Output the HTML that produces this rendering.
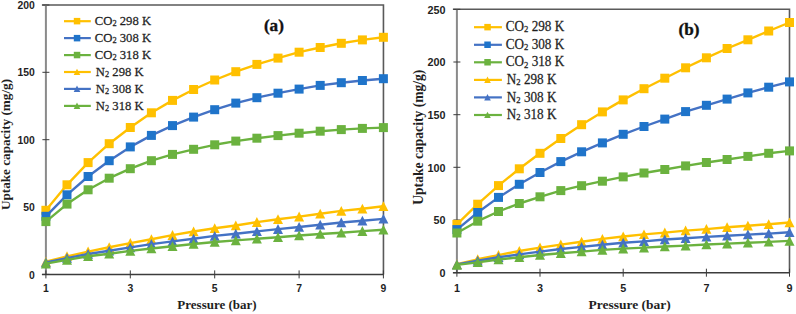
<!DOCTYPE html>
<html><head><meta charset="utf-8"><style>
html,body{margin:0;padding:0;background:#fff;}
body{width:796px;height:314px;overflow:hidden;position:relative;}
svg{position:absolute;left:0;top:0;}
.tk{font-family:"Liberation Sans",sans-serif;font-weight:bold;fill:#1f1f1f;}
.ti{font-family:"Liberation Serif",serif;font-weight:bold;fill:#1f1f1f;}
.pl{font-family:"Liberation Serif",serif;font-weight:bold;font-size:17.2px;fill:#111;stroke:#111;stroke-width:0.35px;}
.lg{font-family:"Liberation Serif",serif;fill:#1f1f1f;stroke:#1f1f1f;stroke-width:0.25px;}
</style></head><body>
<svg width="796" height="314" viewBox="0 0 796 314">
<path d="M41.9,5.00 H383.45 V274.40" fill="none" stroke="#5a5a5a" stroke-width="1.6"/>
<line x1="45.90" y1="5.00" x2="45.90" y2="274.40" stroke="#8a8a8a" stroke-width="2"/>
<line x1="41.9" y1="274.40" x2="383.45" y2="274.40" stroke="#3c3c3c" stroke-width="1.5"/>
<line x1="42.4" y1="274.4" x2="49.4" y2="274.4" stroke="#3a3a3a" stroke-width="1"/>
<text transform="translate(34.9,278.5) scale(1.02,1)" text-anchor="end" class="tk" style="font-size:10.20px">0</text>
<line x1="42.4" y1="207.0" x2="49.4" y2="207.0" stroke="#3a3a3a" stroke-width="1"/>
<text transform="translate(34.9,211.1) scale(1.02,1)" text-anchor="end" class="tk" style="font-size:10.20px">50</text>
<line x1="42.4" y1="139.7" x2="49.4" y2="139.7" stroke="#3a3a3a" stroke-width="1"/>
<text transform="translate(34.9,143.8) scale(1.02,1)" text-anchor="end" class="tk" style="font-size:10.20px">100</text>
<line x1="42.4" y1="72.3" x2="49.4" y2="72.3" stroke="#3a3a3a" stroke-width="1"/>
<text transform="translate(34.9,76.4) scale(1.02,1)" text-anchor="end" class="tk" style="font-size:10.20px">150</text>
<line x1="42.4" y1="5.0" x2="49.4" y2="5.0" stroke="#3a3a3a" stroke-width="1"/>
<text transform="translate(34.9,9.1) scale(1.02,1)" text-anchor="end" class="tk" style="font-size:10.20px">200</text>
<line x1="45.9" y1="270.4" x2="45.9" y2="278.4" stroke="#3a3a3a" stroke-width="1"/>
<text transform="translate(45.9,291.7) scale(1.02,1)" text-anchor="middle" class="tk" style="font-size:10.20px">1</text>
<line x1="130.3" y1="270.4" x2="130.3" y2="278.4" stroke="#3a3a3a" stroke-width="1"/>
<text transform="translate(130.3,291.7) scale(1.02,1)" text-anchor="middle" class="tk" style="font-size:10.20px">3</text>
<line x1="214.7" y1="270.4" x2="214.7" y2="278.4" stroke="#3a3a3a" stroke-width="1"/>
<text transform="translate(214.7,291.7) scale(1.02,1)" text-anchor="middle" class="tk" style="font-size:10.20px">5</text>
<line x1="299.1" y1="270.4" x2="299.1" y2="278.4" stroke="#3a3a3a" stroke-width="1"/>
<text transform="translate(299.1,291.7) scale(1.02,1)" text-anchor="middle" class="tk" style="font-size:10.20px">7</text>
<line x1="383.4" y1="270.4" x2="383.4" y2="278.4" stroke="#3a3a3a" stroke-width="1"/>
<text transform="translate(383.4,291.7) scale(1.02,1)" text-anchor="middle" class="tk" style="font-size:10.20px">9</text>
<text x="217.0" y="309.4" text-anchor="middle" class="ti" style="font-size:13.0px">Pressure (bar)</text>
<text transform="translate(9.6,144.5) rotate(-90)" text-anchor="middle" class="ti" style="font-size:13.2px">Uptake capacity (mg/g)</text>
<text x="273.9" y="31.3" class="pl" text-anchor="middle">(a)</text>
<polyline points="45.9,210.3 67.0,184.8 88.1,162.6 109.2,143.7 130.3,127.5 151.4,112.8 172.5,100.4 193.6,89.5 214.7,80.0 235.8,71.7 256.9,64.4 278.0,58.1 299.1,52.2 320.2,47.5 341.3,43.3 362.4,39.9 383.4,37.3" fill="none" stroke="#FFC000" stroke-width="2.4" stroke-linejoin="round"/>
<rect x="41.4" y="205.8" width="9" height="9" fill="#FFC000"/>
<rect x="62.5" y="180.3" width="9" height="9" fill="#FFC000"/>
<rect x="83.6" y="158.1" width="9" height="9" fill="#FFC000"/>
<rect x="104.7" y="139.2" width="9" height="9" fill="#FFC000"/>
<rect x="125.8" y="123.0" width="9" height="9" fill="#FFC000"/>
<rect x="146.9" y="108.3" width="9" height="9" fill="#FFC000"/>
<rect x="168.0" y="95.9" width="9" height="9" fill="#FFC000"/>
<rect x="189.1" y="85.0" width="9" height="9" fill="#FFC000"/>
<rect x="210.2" y="75.5" width="9" height="9" fill="#FFC000"/>
<rect x="231.3" y="67.2" width="9" height="9" fill="#FFC000"/>
<rect x="252.4" y="59.9" width="9" height="9" fill="#FFC000"/>
<rect x="273.5" y="53.6" width="9" height="9" fill="#FFC000"/>
<rect x="294.6" y="47.7" width="9" height="9" fill="#FFC000"/>
<rect x="315.7" y="43.0" width="9" height="9" fill="#FFC000"/>
<rect x="336.8" y="38.8" width="9" height="9" fill="#FFC000"/>
<rect x="357.9" y="35.4" width="9" height="9" fill="#FFC000"/>
<rect x="378.9" y="32.8" width="9" height="9" fill="#FFC000"/>
<polyline points="45.9,216.3 67.0,194.8 88.1,176.5 109.2,160.7 130.3,146.9 151.4,135.4 172.5,125.6 193.6,117.1 214.7,109.7 235.8,103.1 256.9,97.7 278.0,93.2 299.1,89.1 320.2,85.4 341.3,82.7 362.4,80.5 383.4,78.7" fill="none" stroke="#4472C4" stroke-width="2.4" stroke-linejoin="round"/>
<rect x="41.4" y="211.8" width="9" height="9" fill="#1F74CA"/>
<rect x="62.5" y="190.3" width="9" height="9" fill="#1F74CA"/>
<rect x="83.6" y="172.0" width="9" height="9" fill="#1F74CA"/>
<rect x="104.7" y="156.2" width="9" height="9" fill="#1F74CA"/>
<rect x="125.8" y="142.4" width="9" height="9" fill="#1F74CA"/>
<rect x="146.9" y="130.9" width="9" height="9" fill="#1F74CA"/>
<rect x="168.0" y="121.1" width="9" height="9" fill="#1F74CA"/>
<rect x="189.1" y="112.6" width="9" height="9" fill="#1F74CA"/>
<rect x="210.2" y="105.2" width="9" height="9" fill="#1F74CA"/>
<rect x="231.3" y="98.6" width="9" height="9" fill="#1F74CA"/>
<rect x="252.4" y="93.2" width="9" height="9" fill="#1F74CA"/>
<rect x="273.5" y="88.7" width="9" height="9" fill="#1F74CA"/>
<rect x="294.6" y="84.6" width="9" height="9" fill="#1F74CA"/>
<rect x="315.7" y="80.9" width="9" height="9" fill="#1F74CA"/>
<rect x="336.8" y="78.2" width="9" height="9" fill="#1F74CA"/>
<rect x="357.9" y="76.0" width="9" height="9" fill="#1F74CA"/>
<rect x="378.9" y="74.2" width="9" height="9" fill="#1F74CA"/>
<polyline points="45.9,221.6 67.0,204.1 88.1,189.8 109.2,178.2 130.3,168.7 151.4,160.7 172.5,154.4 193.6,149.3 214.7,144.8 235.8,141.1 256.9,138.2 278.0,135.6 299.1,133.2 320.2,131.2 341.3,129.6 362.4,128.4 383.4,127.6" fill="none" stroke="#6BB23F" stroke-width="2.4" stroke-linejoin="round"/>
<rect x="41.4" y="217.1" width="9" height="9" fill="#6BB23F"/>
<rect x="62.5" y="199.6" width="9" height="9" fill="#6BB23F"/>
<rect x="83.6" y="185.3" width="9" height="9" fill="#6BB23F"/>
<rect x="104.7" y="173.7" width="9" height="9" fill="#6BB23F"/>
<rect x="125.8" y="164.2" width="9" height="9" fill="#6BB23F"/>
<rect x="146.9" y="156.2" width="9" height="9" fill="#6BB23F"/>
<rect x="168.0" y="149.9" width="9" height="9" fill="#6BB23F"/>
<rect x="189.1" y="144.8" width="9" height="9" fill="#6BB23F"/>
<rect x="210.2" y="140.3" width="9" height="9" fill="#6BB23F"/>
<rect x="231.3" y="136.6" width="9" height="9" fill="#6BB23F"/>
<rect x="252.4" y="133.7" width="9" height="9" fill="#6BB23F"/>
<rect x="273.5" y="131.1" width="9" height="9" fill="#6BB23F"/>
<rect x="294.6" y="128.7" width="9" height="9" fill="#6BB23F"/>
<rect x="315.7" y="126.7" width="9" height="9" fill="#6BB23F"/>
<rect x="336.8" y="125.1" width="9" height="9" fill="#6BB23F"/>
<rect x="357.9" y="123.9" width="9" height="9" fill="#6BB23F"/>
<rect x="378.9" y="123.1" width="9" height="9" fill="#6BB23F"/>
<polyline points="45.9,261.7 67.0,256.3 88.1,251.6 109.2,247.3 130.3,243.1 151.4,239.2 172.5,235.1 193.6,231.5 214.7,228.2 235.8,225.5 256.9,222.1 278.0,219.2 299.1,216.6 320.2,213.7 341.3,210.9 362.4,208.8 383.4,206.2" fill="none" stroke="#FFC000" stroke-width="2.4" stroke-linejoin="round"/>
<polygon points="45.9,256.7 50.9,266.4 40.9,266.4" fill="#FFC000"/>
<polygon points="67.0,251.3 72.0,261.0 62.0,261.0" fill="#FFC000"/>
<polygon points="88.1,246.6 93.1,256.4 83.1,256.4" fill="#FFC000"/>
<polygon points="109.2,242.3 114.2,252.1 104.2,252.1" fill="#FFC000"/>
<polygon points="130.3,238.1 135.3,247.9 125.3,247.9" fill="#FFC000"/>
<polygon points="151.4,234.2 156.4,243.9 146.4,243.9" fill="#FFC000"/>
<polygon points="172.5,230.1 177.5,239.9 167.5,239.9" fill="#FFC000"/>
<polygon points="193.6,226.5 198.6,236.2 188.6,236.2" fill="#FFC000"/>
<polygon points="214.7,223.2 219.7,232.9 209.7,232.9" fill="#FFC000"/>
<polygon points="235.8,220.5 240.8,230.3 230.8,230.3" fill="#FFC000"/>
<polygon points="256.9,217.1 261.9,226.9 251.9,226.9" fill="#FFC000"/>
<polygon points="278.0,214.2 283.0,223.9 273.0,223.9" fill="#FFC000"/>
<polygon points="299.1,211.6 304.1,221.4 294.1,221.4" fill="#FFC000"/>
<polygon points="320.2,208.7 325.2,218.5 315.2,218.5" fill="#FFC000"/>
<polygon points="341.3,205.9 346.3,215.7 336.3,215.7" fill="#FFC000"/>
<polygon points="362.4,203.8 367.4,213.5 357.4,213.5" fill="#FFC000"/>
<polygon points="383.4,201.2 388.4,210.9 378.4,210.9" fill="#FFC000"/>
<polyline points="45.9,262.5 67.0,258.1 88.1,254.0 109.2,250.8 130.3,247.4 151.4,244.1 172.5,241.4 193.6,238.8 214.7,235.9 235.8,233.7 256.9,231.4 278.0,229.1 299.1,227.0 320.2,224.7 341.3,222.5 362.4,220.8 383.4,218.9" fill="none" stroke="#4472C4" stroke-width="2.4" stroke-linejoin="round"/>
<polygon points="45.9,257.5 50.9,267.3 40.9,267.3" fill="#4472C4"/>
<polygon points="67.0,253.1 72.0,262.8 62.0,262.8" fill="#4472C4"/>
<polygon points="88.1,249.0 93.1,258.7 83.1,258.7" fill="#4472C4"/>
<polygon points="109.2,245.8 114.2,255.6 104.2,255.6" fill="#4472C4"/>
<polygon points="130.3,242.4 135.3,252.2 125.3,252.2" fill="#4472C4"/>
<polygon points="151.4,239.1 156.4,248.9 146.4,248.9" fill="#4472C4"/>
<polygon points="172.5,236.4 177.5,246.2 167.5,246.2" fill="#4472C4"/>
<polygon points="193.6,233.8 198.6,243.5 188.6,243.5" fill="#4472C4"/>
<polygon points="214.7,230.9 219.7,240.7 209.7,240.7" fill="#4472C4"/>
<polygon points="235.8,228.7 240.8,238.5 230.8,238.5" fill="#4472C4"/>
<polygon points="256.9,226.4 261.9,236.1 251.9,236.1" fill="#4472C4"/>
<polygon points="278.0,224.1 283.0,233.9 273.0,233.9" fill="#4472C4"/>
<polygon points="299.1,222.0 304.1,231.8 294.1,231.8" fill="#4472C4"/>
<polygon points="320.2,219.7 325.2,229.5 315.2,229.5" fill="#4472C4"/>
<polygon points="341.3,217.5 346.3,227.2 336.3,227.2" fill="#4472C4"/>
<polygon points="362.4,215.8 367.4,225.5 357.4,225.5" fill="#4472C4"/>
<polygon points="383.4,213.9 388.4,223.6 378.4,223.6" fill="#4472C4"/>
<polyline points="45.9,263.6 67.0,259.9 88.1,256.2 109.2,253.8 130.3,250.9 151.4,248.5 172.5,246.2 193.6,244.0 214.7,242.0 235.8,240.4 256.9,238.8 278.0,237.3 299.1,235.5 320.2,234.0 341.3,232.7 362.4,231.1 383.4,229.7" fill="none" stroke="#6BB23F" stroke-width="2.4" stroke-linejoin="round"/>
<polygon points="45.9,258.6 50.9,268.4 40.9,268.4" fill="#6BB23F"/>
<polygon points="67.0,254.9 72.0,264.7 62.0,264.7" fill="#6BB23F"/>
<polygon points="88.1,251.2 93.1,261.0 83.1,261.0" fill="#6BB23F"/>
<polygon points="109.2,248.8 114.2,258.6 104.2,258.6" fill="#6BB23F"/>
<polygon points="130.3,245.9 135.3,255.7 125.3,255.7" fill="#6BB23F"/>
<polygon points="151.4,243.5 156.4,253.3 146.4,253.3" fill="#6BB23F"/>
<polygon points="172.5,241.2 177.5,251.0 167.5,251.0" fill="#6BB23F"/>
<polygon points="193.6,239.0 198.6,248.7 188.6,248.7" fill="#6BB23F"/>
<polygon points="214.7,237.0 219.7,246.8 209.7,246.8" fill="#6BB23F"/>
<polygon points="235.8,235.4 240.8,245.2 230.8,245.2" fill="#6BB23F"/>
<polygon points="256.9,233.8 261.9,243.5 251.9,243.5" fill="#6BB23F"/>
<polygon points="278.0,232.3 283.0,242.1 273.0,242.1" fill="#6BB23F"/>
<polygon points="299.1,230.5 304.1,240.3 294.1,240.3" fill="#6BB23F"/>
<polygon points="320.2,229.0 325.2,238.8 315.2,238.8" fill="#6BB23F"/>
<polygon points="341.3,227.7 346.3,237.5 336.3,237.5" fill="#6BB23F"/>
<polygon points="362.4,226.1 367.4,235.9 357.4,235.9" fill="#6BB23F"/>
<polygon points="383.4,224.7 388.4,234.5 378.4,234.5" fill="#6BB23F"/>
<line x1="64.0" y1="21.2" x2="90.8" y2="21.2" stroke="#FFC000" stroke-width="2.2"/>
<rect x="73.8" y="17.9" width="6.5" height="6.5" fill="#FFC000"/>
<text transform="translate(94.8,25.1) scale(0.975,1.03)" class="lg" style="font-size:13.0px">CO<tspan style="font-size:8.6px" dy="1.1">2</tspan><tspan dy="-1.1"> 298 K</tspan></text>
<line x1="64.0" y1="38.1" x2="90.8" y2="38.1" stroke="#4472C4" stroke-width="2.2"/>
<rect x="73.8" y="34.9" width="6.5" height="6.5" fill="#1F74CA"/>
<text transform="translate(94.8,42.0) scale(0.975,1.03)" class="lg" style="font-size:13.0px">CO<tspan style="font-size:8.6px" dy="1.1">2</tspan><tspan dy="-1.1"> 308 K</tspan></text>
<line x1="64.0" y1="55.1" x2="90.8" y2="55.1" stroke="#6BB23F" stroke-width="2.2"/>
<rect x="73.8" y="51.8" width="6.5" height="6.5" fill="#6BB23F"/>
<text transform="translate(94.8,59.0) scale(0.975,1.03)" class="lg" style="font-size:13.0px">CO<tspan style="font-size:8.6px" dy="1.1">2</tspan><tspan dy="-1.1"> 318 K</tspan></text>
<line x1="64.0" y1="72.0" x2="90.8" y2="72.0" stroke="#FFC000" stroke-width="2.2"/>
<polygon points="77.0,68.7 80.3,75.1 73.7,75.1" fill="#FFC000"/>
<text transform="translate(95.8,75.9) scale(0.975,1.03)" class="lg" style="font-size:13.0px">N<tspan style="font-size:8.6px" dy="1.1">2</tspan><tspan dy="-1.1"> 298 K</tspan></text>
<line x1="64.0" y1="88.9" x2="90.8" y2="88.9" stroke="#4472C4" stroke-width="2.2"/>
<polygon points="77.0,85.6 80.3,92.1 73.7,92.1" fill="#4472C4"/>
<text transform="translate(95.8,92.8) scale(0.975,1.03)" class="lg" style="font-size:13.0px">N<tspan style="font-size:8.6px" dy="1.1">2</tspan><tspan dy="-1.1"> 308 K</tspan></text>
<line x1="64.0" y1="105.9" x2="90.8" y2="105.9" stroke="#6BB23F" stroke-width="2.2"/>
<polygon points="77.0,102.6 80.3,109.0 73.7,109.0" fill="#6BB23F"/>
<text transform="translate(95.8,109.8) scale(0.975,1.03)" class="lg" style="font-size:13.0px">N<tspan style="font-size:8.6px" dy="1.1">2</tspan><tspan dy="-1.1"> 318 K</tspan></text>
<path d="M452.9,9.30 H789.50 V272.70" fill="none" stroke="#5a5a5a" stroke-width="1.6"/>
<line x1="456.90" y1="9.30" x2="456.90" y2="272.70" stroke="#8a8a8a" stroke-width="2"/>
<line x1="452.9" y1="272.70" x2="789.50" y2="272.70" stroke="#3c3c3c" stroke-width="1.5"/>
<line x1="453.4" y1="272.7" x2="460.4" y2="272.7" stroke="#3a3a3a" stroke-width="1"/>
<text transform="translate(445.5,277.0) scale(1.02,1)" text-anchor="end" class="tk" style="font-size:10.60px">0</text>
<line x1="453.4" y1="220.0" x2="460.4" y2="220.0" stroke="#3a3a3a" stroke-width="1"/>
<text transform="translate(445.5,224.3) scale(1.02,1)" text-anchor="end" class="tk" style="font-size:10.60px">50</text>
<line x1="453.4" y1="167.3" x2="460.4" y2="167.3" stroke="#3a3a3a" stroke-width="1"/>
<text transform="translate(445.5,171.6) scale(1.02,1)" text-anchor="end" class="tk" style="font-size:10.60px">100</text>
<line x1="453.4" y1="114.7" x2="460.4" y2="114.7" stroke="#3a3a3a" stroke-width="1"/>
<text transform="translate(445.5,118.9) scale(1.02,1)" text-anchor="end" class="tk" style="font-size:10.60px">150</text>
<line x1="453.4" y1="62.0" x2="460.4" y2="62.0" stroke="#3a3a3a" stroke-width="1"/>
<text transform="translate(445.5,66.2) scale(1.02,1)" text-anchor="end" class="tk" style="font-size:10.60px">200</text>
<line x1="453.4" y1="9.3" x2="460.4" y2="9.3" stroke="#3a3a3a" stroke-width="1"/>
<text transform="translate(445.5,13.6) scale(1.02,1)" text-anchor="end" class="tk" style="font-size:10.60px">250</text>
<line x1="456.9" y1="268.7" x2="456.9" y2="276.7" stroke="#3a3a3a" stroke-width="1"/>
<text transform="translate(456.9,291.6) scale(1.02,1)" text-anchor="middle" class="tk" style="font-size:10.60px">1</text>
<line x1="540.0" y1="268.7" x2="540.0" y2="276.7" stroke="#3a3a3a" stroke-width="1"/>
<text transform="translate(540.0,291.6) scale(1.02,1)" text-anchor="middle" class="tk" style="font-size:10.60px">3</text>
<line x1="623.2" y1="268.7" x2="623.2" y2="276.7" stroke="#3a3a3a" stroke-width="1"/>
<text transform="translate(623.2,291.6) scale(1.02,1)" text-anchor="middle" class="tk" style="font-size:10.60px">5</text>
<line x1="706.4" y1="268.7" x2="706.4" y2="276.7" stroke="#3a3a3a" stroke-width="1"/>
<text transform="translate(706.4,291.6) scale(1.02,1)" text-anchor="middle" class="tk" style="font-size:10.60px">7</text>
<line x1="789.5" y1="268.7" x2="789.5" y2="276.7" stroke="#3a3a3a" stroke-width="1"/>
<text transform="translate(789.5,291.6) scale(1.02,1)" text-anchor="middle" class="tk" style="font-size:10.60px">9</text>
<text x="629.6" y="308.6" text-anchor="middle" class="ti" style="font-size:13.5px">Pressure (bar)</text>
<text transform="translate(423.3,137.2) rotate(-90)" text-anchor="middle" class="ti" style="font-size:13.6px">Uptake capacity (mg/g)</text>
<text x="689.1" y="35.2" class="pl" text-anchor="middle">(b)</text>
<polyline points="456.9,224.4 477.7,204.2 498.5,185.6 519.3,168.8 540.0,153.3 560.8,138.5 581.6,124.7 602.4,111.9 623.2,99.9 644.0,88.7 664.8,78.2 685.6,67.8 706.4,57.8 727.1,48.5 747.9,39.8 768.7,31.0 789.5,22.5" fill="none" stroke="#FFC000" stroke-width="2.4" stroke-linejoin="round"/>
<rect x="452.4" y="219.9" width="9" height="9" fill="#FFC000"/>
<rect x="473.2" y="199.7" width="9" height="9" fill="#FFC000"/>
<rect x="494.0" y="181.1" width="9" height="9" fill="#FFC000"/>
<rect x="514.8" y="164.3" width="9" height="9" fill="#FFC000"/>
<rect x="535.5" y="148.8" width="9" height="9" fill="#FFC000"/>
<rect x="556.3" y="134.0" width="9" height="9" fill="#FFC000"/>
<rect x="577.1" y="120.2" width="9" height="9" fill="#FFC000"/>
<rect x="597.9" y="107.4" width="9" height="9" fill="#FFC000"/>
<rect x="618.7" y="95.4" width="9" height="9" fill="#FFC000"/>
<rect x="639.5" y="84.2" width="9" height="9" fill="#FFC000"/>
<rect x="660.3" y="73.7" width="9" height="9" fill="#FFC000"/>
<rect x="681.1" y="63.3" width="9" height="9" fill="#FFC000"/>
<rect x="701.9" y="53.3" width="9" height="9" fill="#FFC000"/>
<rect x="722.6" y="44.0" width="9" height="9" fill="#FFC000"/>
<rect x="743.4" y="35.3" width="9" height="9" fill="#FFC000"/>
<rect x="764.2" y="26.5" width="9" height="9" fill="#FFC000"/>
<rect x="785.0" y="18.0" width="9" height="9" fill="#FFC000"/>
<polyline points="456.9,229.6 477.7,212.5 498.5,197.4 519.3,184.3 540.0,172.5 560.8,161.6 581.6,151.8 602.4,142.9 623.2,134.3 644.0,126.5 664.8,119.1 685.6,111.6 706.4,105.3 727.1,99.1 747.9,92.9 768.7,87.2 789.5,81.9" fill="none" stroke="#4472C4" stroke-width="2.4" stroke-linejoin="round"/>
<rect x="452.4" y="225.1" width="9" height="9" fill="#1F74CA"/>
<rect x="473.2" y="208.0" width="9" height="9" fill="#1F74CA"/>
<rect x="494.0" y="192.9" width="9" height="9" fill="#1F74CA"/>
<rect x="514.8" y="179.8" width="9" height="9" fill="#1F74CA"/>
<rect x="535.5" y="168.0" width="9" height="9" fill="#1F74CA"/>
<rect x="556.3" y="157.1" width="9" height="9" fill="#1F74CA"/>
<rect x="577.1" y="147.3" width="9" height="9" fill="#1F74CA"/>
<rect x="597.9" y="138.4" width="9" height="9" fill="#1F74CA"/>
<rect x="618.7" y="129.8" width="9" height="9" fill="#1F74CA"/>
<rect x="639.5" y="122.0" width="9" height="9" fill="#1F74CA"/>
<rect x="660.3" y="114.6" width="9" height="9" fill="#1F74CA"/>
<rect x="681.1" y="107.1" width="9" height="9" fill="#1F74CA"/>
<rect x="701.9" y="100.8" width="9" height="9" fill="#1F74CA"/>
<rect x="722.6" y="94.6" width="9" height="9" fill="#1F74CA"/>
<rect x="743.4" y="88.4" width="9" height="9" fill="#1F74CA"/>
<rect x="764.2" y="82.7" width="9" height="9" fill="#1F74CA"/>
<rect x="785.0" y="77.4" width="9" height="9" fill="#1F74CA"/>
<polyline points="456.9,233.0 477.7,221.2 498.5,211.5 519.3,203.5 540.0,196.8 560.8,190.6 581.6,185.7 602.4,181.2 623.2,176.9 644.0,173.0 664.8,169.5 685.6,165.9 706.4,162.5 727.1,159.5 747.9,156.4 768.7,153.3 789.5,150.9" fill="none" stroke="#6BB23F" stroke-width="2.4" stroke-linejoin="round"/>
<rect x="452.4" y="228.5" width="9" height="9" fill="#6BB23F"/>
<rect x="473.2" y="216.7" width="9" height="9" fill="#6BB23F"/>
<rect x="494.0" y="207.0" width="9" height="9" fill="#6BB23F"/>
<rect x="514.8" y="199.0" width="9" height="9" fill="#6BB23F"/>
<rect x="535.5" y="192.3" width="9" height="9" fill="#6BB23F"/>
<rect x="556.3" y="186.1" width="9" height="9" fill="#6BB23F"/>
<rect x="577.1" y="181.2" width="9" height="9" fill="#6BB23F"/>
<rect x="597.9" y="176.7" width="9" height="9" fill="#6BB23F"/>
<rect x="618.7" y="172.4" width="9" height="9" fill="#6BB23F"/>
<rect x="639.5" y="168.5" width="9" height="9" fill="#6BB23F"/>
<rect x="660.3" y="165.0" width="9" height="9" fill="#6BB23F"/>
<rect x="681.1" y="161.4" width="9" height="9" fill="#6BB23F"/>
<rect x="701.9" y="158.0" width="9" height="9" fill="#6BB23F"/>
<rect x="722.6" y="155.0" width="9" height="9" fill="#6BB23F"/>
<rect x="743.4" y="151.9" width="9" height="9" fill="#6BB23F"/>
<rect x="764.2" y="148.8" width="9" height="9" fill="#6BB23F"/>
<rect x="785.0" y="146.4" width="9" height="9" fill="#6BB23F"/>
<polyline points="456.9,264.2 477.7,259.3 498.5,255.1 519.3,251.0 540.0,247.6 560.8,244.6 581.6,241.7 602.4,238.9 623.2,236.5 644.0,234.4 664.8,232.6 685.6,230.6 706.4,229.1 727.1,227.3 747.9,225.8 768.7,224.2 789.5,222.5" fill="none" stroke="#FFC000" stroke-width="2.4" stroke-linejoin="round"/>
<polygon points="456.9,259.2 461.9,268.9 451.9,268.9" fill="#FFC000"/>
<polygon points="477.7,254.3 482.7,264.1 472.7,264.1" fill="#FFC000"/>
<polygon points="498.5,250.1 503.5,259.8 493.5,259.8" fill="#FFC000"/>
<polygon points="519.3,246.0 524.3,255.7 514.3,255.7" fill="#FFC000"/>
<polygon points="540.0,242.6 545.0,252.4 535.0,252.4" fill="#FFC000"/>
<polygon points="560.8,239.6 565.8,249.3 555.8,249.3" fill="#FFC000"/>
<polygon points="581.6,236.7 586.6,246.4 576.6,246.4" fill="#FFC000"/>
<polygon points="602.4,233.9 607.4,243.7 597.4,243.7" fill="#FFC000"/>
<polygon points="623.2,231.5 628.2,241.3 618.2,241.3" fill="#FFC000"/>
<polygon points="644.0,229.4 649.0,239.1 639.0,239.1" fill="#FFC000"/>
<polygon points="664.8,227.6 669.8,237.4 659.8,237.4" fill="#FFC000"/>
<polygon points="685.6,225.6 690.6,235.3 680.6,235.3" fill="#FFC000"/>
<polygon points="706.4,224.1 711.4,233.8 701.4,233.8" fill="#FFC000"/>
<polygon points="727.1,222.3 732.1,232.1 722.1,232.1" fill="#FFC000"/>
<polygon points="747.9,220.8 752.9,230.6 742.9,230.6" fill="#FFC000"/>
<polygon points="768.7,219.2 773.7,228.9 763.7,228.9" fill="#FFC000"/>
<polygon points="789.5,217.5 794.5,227.3 784.5,227.3" fill="#FFC000"/>
<polyline points="456.9,264.5 477.7,260.8 498.5,257.2 519.3,254.4 540.0,251.6 560.8,249.0 581.6,246.9 602.4,244.7 623.2,242.8 644.0,241.4 664.8,239.5 685.6,238.3 706.4,236.9 727.1,235.8 747.9,234.6 768.7,233.6 789.5,232.3" fill="none" stroke="#4472C4" stroke-width="2.4" stroke-linejoin="round"/>
<polygon points="456.9,259.5 461.9,269.2 451.9,269.2" fill="#4472C4"/>
<polygon points="477.7,255.8 482.7,265.5 472.7,265.5" fill="#4472C4"/>
<polygon points="498.5,252.2 503.5,262.0 493.5,262.0" fill="#4472C4"/>
<polygon points="519.3,249.4 524.3,259.2 514.3,259.2" fill="#4472C4"/>
<polygon points="540.0,246.6 545.0,256.4 535.0,256.4" fill="#4472C4"/>
<polygon points="560.8,244.0 565.8,253.7 555.8,253.7" fill="#4472C4"/>
<polygon points="581.6,241.9 586.6,251.6 576.6,251.6" fill="#4472C4"/>
<polygon points="602.4,239.7 607.4,249.4 597.4,249.4" fill="#4472C4"/>
<polygon points="623.2,237.8 628.2,247.5 618.2,247.5" fill="#4472C4"/>
<polygon points="644.0,236.4 649.0,246.1 639.0,246.1" fill="#4472C4"/>
<polygon points="664.8,234.5 669.8,244.3 659.8,244.3" fill="#4472C4"/>
<polygon points="685.6,233.3 690.6,243.1 680.6,243.1" fill="#4472C4"/>
<polygon points="706.4,231.9 711.4,241.6 701.4,241.6" fill="#4472C4"/>
<polygon points="727.1,230.8 732.1,240.6 722.1,240.6" fill="#4472C4"/>
<polygon points="747.9,229.6 752.9,239.3 742.9,239.3" fill="#4472C4"/>
<polygon points="768.7,228.6 773.7,238.3 763.7,238.3" fill="#4472C4"/>
<polygon points="789.5,227.3 794.5,237.0 784.5,237.0" fill="#4472C4"/>
<polyline points="456.9,264.9 477.7,262.4 498.5,259.5 519.3,257.3 540.0,255.0 560.8,253.2 581.6,251.6 602.4,249.9 623.2,248.6 644.0,247.6 664.8,246.5 685.6,245.6 706.4,244.5 727.1,243.6 747.9,242.7 768.7,241.9 789.5,240.9" fill="none" stroke="#6BB23F" stroke-width="2.4" stroke-linejoin="round"/>
<polygon points="456.9,259.9 461.9,269.7 451.9,269.7" fill="#6BB23F"/>
<polygon points="477.7,257.4 482.7,267.1 472.7,267.1" fill="#6BB23F"/>
<polygon points="498.5,254.5 503.5,264.3 493.5,264.3" fill="#6BB23F"/>
<polygon points="519.3,252.3 524.3,262.1 514.3,262.1" fill="#6BB23F"/>
<polygon points="540.0,250.0 545.0,259.8 535.0,259.8" fill="#6BB23F"/>
<polygon points="560.8,248.2 565.8,257.9 555.8,257.9" fill="#6BB23F"/>
<polygon points="581.6,246.6 586.6,256.3 576.6,256.3" fill="#6BB23F"/>
<polygon points="602.4,244.9 607.4,254.7 597.4,254.7" fill="#6BB23F"/>
<polygon points="623.2,243.6 628.2,253.4 618.2,253.4" fill="#6BB23F"/>
<polygon points="644.0,242.6 649.0,252.4 639.0,252.4" fill="#6BB23F"/>
<polygon points="664.8,241.5 669.8,251.3 659.8,251.3" fill="#6BB23F"/>
<polygon points="685.6,240.6 690.6,250.4 680.6,250.4" fill="#6BB23F"/>
<polygon points="706.4,239.5 711.4,249.2 701.4,249.2" fill="#6BB23F"/>
<polygon points="727.1,238.6 732.1,248.4 722.1,248.4" fill="#6BB23F"/>
<polygon points="747.9,237.7 752.9,247.5 742.9,247.5" fill="#6BB23F"/>
<polygon points="768.7,236.9 773.7,246.6 763.7,246.6" fill="#6BB23F"/>
<polygon points="789.5,235.9 794.5,245.7 784.5,245.7" fill="#6BB23F"/>
<line x1="474.0" y1="27.2" x2="501.9" y2="27.2" stroke="#FFC000" stroke-width="2.2"/>
<rect x="484.3" y="23.9" width="6.5" height="6.5" fill="#FFC000"/>
<text transform="translate(505.8,31.3) scale(0.975,1.03)" class="lg" style="font-size:13.5px">CO<tspan style="font-size:8.9px" dy="1.1">2</tspan><tspan dy="-1.1"> 298 K</tspan></text>
<line x1="474.0" y1="44.8" x2="501.9" y2="44.8" stroke="#4472C4" stroke-width="2.2"/>
<rect x="484.3" y="41.5" width="6.5" height="6.5" fill="#1F74CA"/>
<text transform="translate(505.8,48.8) scale(0.975,1.03)" class="lg" style="font-size:13.5px">CO<tspan style="font-size:8.9px" dy="1.1">2</tspan><tspan dy="-1.1"> 308 K</tspan></text>
<line x1="474.0" y1="62.3" x2="501.9" y2="62.3" stroke="#6BB23F" stroke-width="2.2"/>
<rect x="484.3" y="59.0" width="6.5" height="6.5" fill="#6BB23F"/>
<text transform="translate(505.8,66.4) scale(0.975,1.03)" class="lg" style="font-size:13.5px">CO<tspan style="font-size:8.9px" dy="1.1">2</tspan><tspan dy="-1.1"> 318 K</tspan></text>
<line x1="474.0" y1="79.9" x2="501.9" y2="79.9" stroke="#FFC000" stroke-width="2.2"/>
<polygon points="487.5,76.6 490.8,83.0 484.2,83.0" fill="#FFC000"/>
<text transform="translate(506.8,83.9) scale(0.975,1.03)" class="lg" style="font-size:13.5px">N<tspan style="font-size:8.9px" dy="1.1">2</tspan><tspan dy="-1.1"> 298 K</tspan></text>
<line x1="474.0" y1="97.4" x2="501.9" y2="97.4" stroke="#4472C4" stroke-width="2.2"/>
<polygon points="487.5,94.1 490.8,100.5 484.2,100.5" fill="#4472C4"/>
<text transform="translate(506.8,101.5) scale(0.975,1.03)" class="lg" style="font-size:13.5px">N<tspan style="font-size:8.9px" dy="1.1">2</tspan><tspan dy="-1.1"> 308 K</tspan></text>
<line x1="474.0" y1="115.0" x2="501.9" y2="115.0" stroke="#6BB23F" stroke-width="2.2"/>
<polygon points="487.5,111.7 490.8,118.1 484.2,118.1" fill="#6BB23F"/>
<text transform="translate(506.8,119.0) scale(0.975,1.03)" class="lg" style="font-size:13.5px">N<tspan style="font-size:8.9px" dy="1.1">2</tspan><tspan dy="-1.1"> 318 K</tspan></text>
</svg>
</body></html>
